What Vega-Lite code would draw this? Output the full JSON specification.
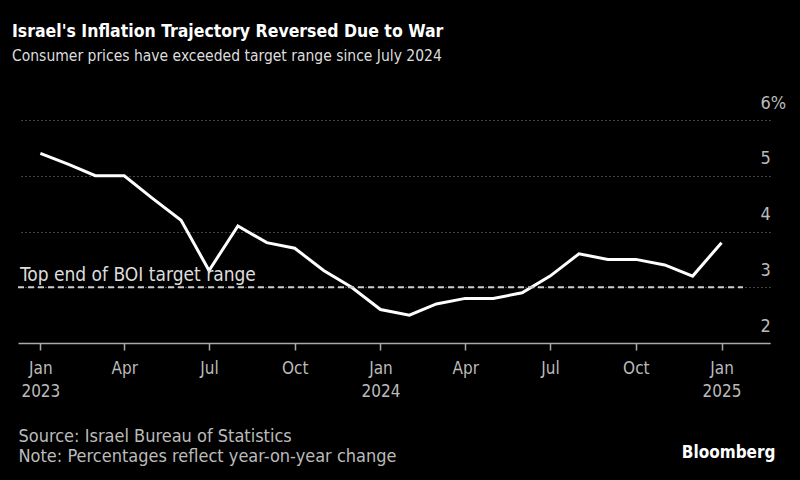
{
  "$schema": "https://vega.github.io/schema/vega-lite/v6.json",
  "width": 752,
  "height": 223,
  "autosize": {"type": "none"},
  "padding": {"left": 18, "top": 120, "right": 30, "bottom": 137},
  "background": "#000000",
  "config": {
    "view": {"stroke": null},
    "font": "DejaVu Sans Condensed"
  },
  "title": {
    "text": "Israel's Inflation Trajectory Reversed Due to War",
    "subtitle": "Consumer prices have exceeded target range since July 2024",
    "anchor": "start",
    "frame": "group",
    "fontSize": 17.5,
    "fontWeight": "bold",
    "color": "#ffffff",
    "subtitleFontSize": 15.5,
    "subtitleColor": "#dddddd",
    "subtitlePadding": 8,
    "offset": 30,
    "dx": -6
  },
  "datasets": {
    "cpi": [
      {"month": "2023-01-01", "cpi": 5.4},
      {"month": "2023-02-01", "cpi": 5.2},
      {"month": "2023-03-01", "cpi": 5.0},
      {"month": "2023-04-01", "cpi": 5.0},
      {"month": "2023-05-01", "cpi": 4.6},
      {"month": "2023-06-01", "cpi": 4.2},
      {"month": "2023-07-01", "cpi": 3.3},
      {"month": "2023-08-01", "cpi": 4.1},
      {"month": "2023-09-01", "cpi": 3.8},
      {"month": "2023-10-01", "cpi": 3.7},
      {"month": "2023-11-01", "cpi": 3.3},
      {"month": "2023-12-01", "cpi": 3.0},
      {"month": "2024-01-01", "cpi": 2.6},
      {"month": "2024-02-01", "cpi": 2.5},
      {"month": "2024-03-01", "cpi": 2.7},
      {"month": "2024-04-01", "cpi": 2.8},
      {"month": "2024-05-01", "cpi": 2.8},
      {"month": "2024-06-01", "cpi": 2.9},
      {"month": "2024-07-01", "cpi": 3.2},
      {"month": "2024-08-01", "cpi": 3.6},
      {"month": "2024-09-01", "cpi": 3.5},
      {"month": "2024-10-01", "cpi": 3.5},
      {"month": "2024-11-01", "cpi": 3.4},
      {"month": "2024-12-01", "cpi": 3.2},
      {"month": "2025-01-01", "cpi": 3.8}
    ],
    "target": [
      {"start": "2022-12-08", "end": "2025-01-24", "value": 3, "label": "Top end of BOI target range"}
    ]
  },
  "layer": [
    {
      "data": {"name": "cpi"},
      "mark": {"type": "line", "color": "#ffffff", "strokeWidth": 3},
      "encoding": {
        "x": {
          "field": "month",
          "type": "temporal",
          "scale": {
            "type": "utc",
            "domain": [
              {"year": 2022, "month": 12, "date": 8, "utc": true},
              {"year": 2025, "month": 2, "date": 22, "utc": true}
            ]
          },
          "axis": {
            "tickCount": {"interval": "month", "step": 3},
            "labelExpr": "utcFormat(datum.value,'%m')=='01' ? [utcFormat(datum.value,'%b'), utcFormat(datum.value,'%Y')] : utcFormat(datum.value,'%b')",
            "grid": false,
            "domainColor": "#aaaaaa",
            "domainWidth": 1.5,
            "tickColor": "#aaaaaa",
            "tickSize": 7,
            "tickWidth": 1.5,
            "labelColor": "#bbbbbb",
            "labelFontSize": 17,
            "labelPadding": 10,
            "labelLineHeight": 23,
            "labelFlush": false,
            "title": ["Source: Israel Bureau of Statistics", "Note: Percentages reflect year-on-year change"],
            "titleX": 0,
            "titleY": 84,
            "titleAlign": "left",
            "titleBaseline": "top",
            "titleFontWeight": "normal",
            "titleFontSize": 18,
            "titleColor": "#bbbbbb",
            "titleLineHeight": 20
          }
        },
        "y": {
          "field": "cpi",
          "type": "quantitative",
          "scale": {"domain": [2, 6]},
          "axis": {
            "orient": "right",
            "values": [2, 3, 4, 5, 6],
            "labelExpr": "datum.value == 6 ? '6%' : format(datum.value, 'd')",
            "ticks": false,
            "domain": false,
            "grid": true,
            "gridColor": "#888888",
            "gridDash": [1, 3],
            "gridWidth": 1,
            "labelAlign": "left",
            "labelBaseline": "middle",
            "labelPadding": -10,
            "labelOffset": -17,
            "labelColor": "#bbbbbb",
            "labelFontSize": 18,
            "title": "Bloomberg",
            "titleAngle": 0,
            "titleX": 5,
            "titleY": 332,
            "titleAlign": "right",
            "titleBaseline": "middle",
            "titleFontSize": 17,
            "titleFontWeight": "bold",
            "titleColor": "#ffffff"
          }
        }
      }
    },
    {
      "data": {"name": "target"},
      "mark": {"type": "rule", "strokeDash": [6, 4], "color": "#cccccc", "strokeWidth": 2},
      "encoding": {
        "x": {"field": "start", "type": "temporal"},
        "x2": {"field": "end"},
        "y": {"field": "value", "type": "quantitative"}
      }
    },
    {
      "data": {"name": "target"},
      "mark": {"type": "text", "align": "left", "baseline": "alphabetic", "dx": 2, "dy": -6, "fontSize": 19, "color": "#dddddd"},
      "encoding": {
        "x": {"field": "start", "type": "temporal"},
        "y": {"field": "value", "type": "quantitative"},
        "text": {"field": "label"}
      }
    }
  ]
}
